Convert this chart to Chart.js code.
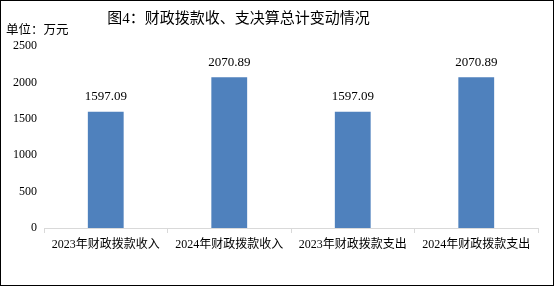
<!DOCTYPE html>
<html>
<head>
<meta charset="utf-8">
<script src="https://cdn.jsdelivr.net/npm/chart.js@4.4.1/dist/chart.umd.min.js"></script>
<style>
  html, body { margin: 0; padding: 0; background: #fff; }
  #wrap { width: 554px; height: 286px; box-sizing: border-box; border: 1px solid #000; }
  canvas { display: block; }
</style>
</head>
<body>
<div id="wrap"><canvas id="myChart" width="552" height="284"></canvas></div>
<script>
const categories = ["2023年财政拨款收入", "2024年财政拨款收入", "2023年财政拨款支出", "2024年财政拨款支出"];
const amounts = [1597.09, 2070.89, 1597.09, 2070.89];
const yTicks = [0, 500, 1000, 1500, 2000, 2500];
const titleText = "图4：财政拨款收、支决算总计变动情况";
const unitText = "单位：万元";

const numFont = "'Liberation Serif', 'Noto Sans CJK SC', serif";

// value labels above the bars + title and unit text
const labelPlugin = {
  id: "labels",
  afterDatasetsDraw(chart) {
    const ctx = chart.ctx;
    const meta = chart.getDatasetMeta(0);
    ctx.save();
    ctx.fillStyle = "#000";
    ctx.font = "13px " + numFont;
    ctx.textAlign = "center";
    ctx.textBaseline = "middle";
    meta.data.forEach((bar, i) => {
      ctx.fillText(amounts[i].toFixed(2), bar.x, bar.y - 15);
    });
    ctx.font = "15px " + numFont;
    ctx.fillText(titleText, 237.5, 18);
    ctx.font = "12.5px 'Noto Sans CJK SC', sans-serif";
    ctx.textAlign = "left";
    ctx.fillText(unitText, 5, 28);
    ctx.restore();
  }
};

new Chart(document.getElementById("myChart"), {
  type: "bar",
  data: {
    labels: categories,
    datasets: [{
      data: amounts,
      backgroundColor: "#4f81bd",
      barPercentage: 0.29,
      categoryPercentage: 1
    }]
  },
  options: {
    responsive: false,
    animation: false,
    layout: { padding: { top: 45, right: 15, left: 0, bottom: 0 } },
    plugins: { legend: { display: false }, tooltip: { enabled: false } },
    scales: {
      x: {
        grid: { drawOnChartArea: false, tickLength: 5, color: "#d9d9d9" },
        border: { color: "#d9d9d9" },
        ticks: { color: "#000", padding: 5, maxRotation: 0, autoSkip: false,
          font: { family: numFont, size: 12 } },
        afterFit(scale) { scale.height = 57; }
      },
      y: {
        min: 0,
        max: 2500,
        grid: { display: false, drawTicks: false },
        border: { display: false },
        afterBuildTicks(scale) { scale.ticks = yTicks.map(v => ({ value: v })); },
        ticks: { color: "#000", padding: 7, font: { family: numFont, size: 12 },
          callback: v => String(v) },
        afterFit(scale) { scale.width = 43; }
      }
    }
  },
  plugins: [labelPlugin]
});
</script>
</body>
</html>
